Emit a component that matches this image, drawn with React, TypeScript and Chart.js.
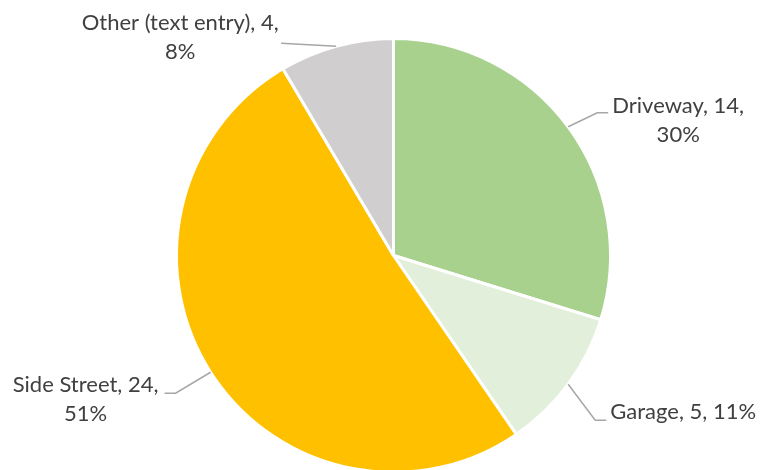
import React, { useEffect, useRef } from "react";
import { Chart, registerables } from "chart.js";

Chart.register(...registerables);

const categories = ["Driveway", "Garage", "Side Street", "Other (text entry)"];
const counts = [14, 5, 24, 4];
const percents = [30, 11, 51, 8];
const colors = ["#A9D18E", "#E2EFDA", "#FFC000", "#D0CECE"];

// how each label is broken into lines: [name part, value part] or single line
const twoLine = [true, false, true, true];

// label layout (offsets from the slice's outer-edge midpoint)
const leaderElbow = [
  [29, -14],
  [27, 36],
  [-35, 21],
  [-55, -3],
];
const leaderEndDx = [11, 11, -11, 0];
const textCenter = [
  [110, -21],
  [115, 28],
  [-125, 13],
  [-156, -23],
];

const FONT = "22px Lato";
const LINE_H = 29;

const labelPlugin = {
  id: "pieLabels",
  afterDatasetsDraw(chart: any) {
    const ctx = chart.ctx;
    const meta = chart.getDatasetMeta(0);
    const data = chart.data.datasets[0].data as number[];
    const labels = chart.data.labels as string[];
    meta.data.forEach((arc: any, i: number) => {
      const { x, y, startAngle, endAngle, outerRadius } = arc.getProps(
        ["x", "y", "startAngle", "endAngle", "outerRadius"],
        true
      );
      const mid = (startAngle + endAngle) / 2;
      const ex = x + Math.cos(mid) * outerRadius;
      const ey = y + Math.sin(mid) * outerRadius;
      const bx = ex + leaderElbow[i][0];
      const by = ey + leaderElbow[i][1];
      ctx.save();
      ctx.strokeStyle = "#A6A6A6";
      ctx.lineWidth = 1.5;
      ctx.beginPath();
      ctx.moveTo(ex, ey);
      ctx.lineTo(bx, by);
      ctx.lineTo(bx + leaderEndDx[i], by);
      ctx.stroke();
      ctx.fillStyle = "#404040";
      ctx.font = FONT;
      ctx.textAlign = "center";
      ctx.textBaseline = "middle";
      const lines = twoLine[i]
        ? [`${labels[i]}, ${data[i]},`, `${percents[i]}%`]
        : [`${labels[i]}, ${data[i]}, ${percents[i]}%`];
      lines.forEach((line, k) => {
        ctx.fillText(line, ex + textCenter[i][0], ey + textCenter[i][1] + k * LINE_H);
      });
      ctx.restore();
    });
  },
};

export default function App() {
  const ref = useRef<HTMLCanvasElement>(null);
  useEffect(() => {
    if (!ref.current) return;
    const chart = new Chart(ref.current, {
      type: "pie",
      data: {
        labels: categories,
        datasets: [
          {
            data: counts,
            backgroundColor: colors,
            borderColor: "#FFFFFF",
            borderWidth: 3,
          },
        ],
      },
      options: {
        responsive: false,
        animation: false,
        layout: { padding: { left: 175, right: 148, top: 37, bottom: 16 } },
        plugins: {
          legend: { display: false },
          tooltip: { enabled: false },
        },
      },
      plugins: [labelPlugin],
    });
    return () => chart.destroy();
  }, []);
  return (
    <div
      style={{
        position: "fixed",
        left: 0,
        top: 0,
        width: 760,
        height: 470,
        overflow: "hidden",
        background: "#fff",
      }}
    >
      <canvas ref={ref} width={760} height={490} style={{ display: "block" }} />
    </div>
  );
}
